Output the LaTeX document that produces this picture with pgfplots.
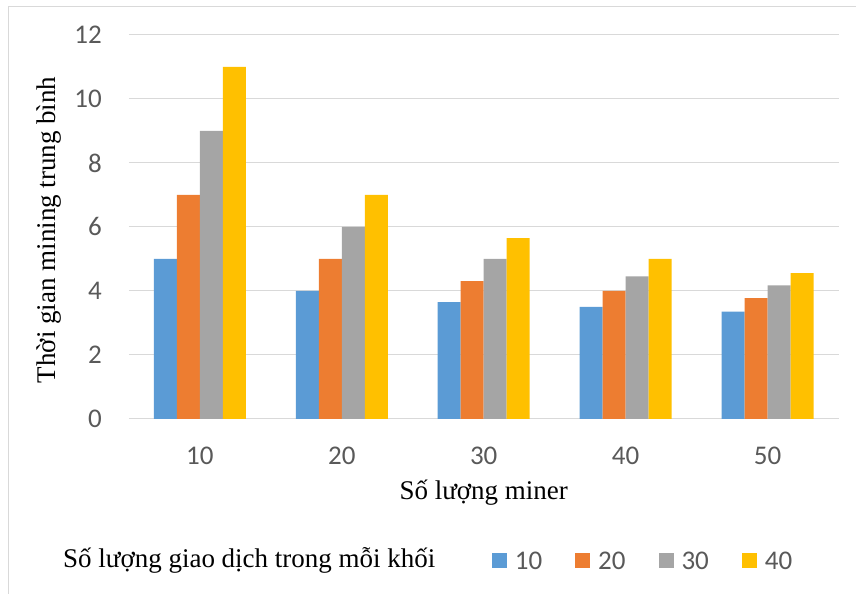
\documentclass[border=0pt]{standalone}
\usepackage{pgfplots}
\pgfplotsset{compat=1.18}
\usepackage{fontspec}
\setmainfont{Liberation Serif}
\newfontfamily\carlito{Carlito}
\definecolor{cblue}{HTML}{5B9BD5}
\definecolor{corange}{HTML}{ED7D31}
\definecolor{cgray}{HTML}{A5A5A5}
\definecolor{cyellow}{HTML}{FFC000}
\definecolor{gridc}{HTML}{D9D9D9}
\definecolor{tickc}{HTML}{595959}
\begin{document}
\begin{tikzpicture}
\path (-129bp,-175bp) rectangle (727bp,419bp);
\draw[gridc, line width=1bp] (-120bp,-175bp) -- (-120bp,412bp) -- (727bp,412bp);
\begin{axis}[
  scale only axis, width=710bp, height=384bp,
  ybar=0pt, bar width=23bp,
  xmin=-0.5, xmax=4.5, ymin=0, ymax=12,
  xtick={0,1,2,3,4}, xticklabels={10,20,30,40,50},
  ytick={0,2,4,6,8,10,12},
  major tick length=0pt,
  axis line style={draw=none},
  ymajorgrids, major grid style={gridc, line width=1bp},
  /pgf/number format/assume math mode=true,
  tick label style={font=\carlito\fontsize{27bp}{32bp}\selectfont, text=tickc, inner sep=0pt},
  xticklabel style={anchor=center, yshift=-37bp},
  yticklabel style={anchor=east, xshift=-27bp},
  xlabel={Số lượng miner},
  ylabel={Thời gian mining trung bình},
  label style={font=\fontsize{27bp}{32bp}\selectfont, inner sep=0pt},
  xlabel style={at={(rel axis cs:0.5,0)}, anchor=base, yshift=-81bp},
  ylabel style={at={([xshift=-73bp,yshift=-3bp]rel axis cs:0,0.5)}, anchor=base},
  legend style={at={(axis description cs:0.5113,-0.371)}, anchor=west, draw=none, inner sep=0pt,
    font=\carlito\fontsize{27bp}{32bp}\selectfont, text=tickc,
    nodes={inner sep=0pt},
    /tikz/every odd column/.append style={column sep=8bp},
    /tikz/every even column/.append style={column sep=33bp}},
  legend columns=4,
  legend image code/.code={\fill[#1] (0bp,-7bp) rectangle (15bp,8bp);},
]
\addplot[fill=cblue, draw=none] coordinates {(0,5) (1,4) (2,3.65) (3,3.5) (4,3.35)};
\addplot[fill=corange, draw=none] coordinates {(0,7) (1,5) (2,4.3) (3,4) (4,3.77)};
\addplot[fill=cgray, draw=none] coordinates {(0,9) (1,6) (2,5) (3,4.45) (4,4.17)};
\addplot[fill=cyellow, draw=none] coordinates {(0,11) (1,7) (2,5.65) (3,5) (4,4.55)};
\legend{10,20,30,40}
\end{axis}
\node[anchor=base west, inner sep=0pt, font=\fontsize{27bp}{32bp}\selectfont] at (-66bp,-149bp) {Số lượng giao dịch trong mỗi khối};
\end{tikzpicture}
\end{document}
